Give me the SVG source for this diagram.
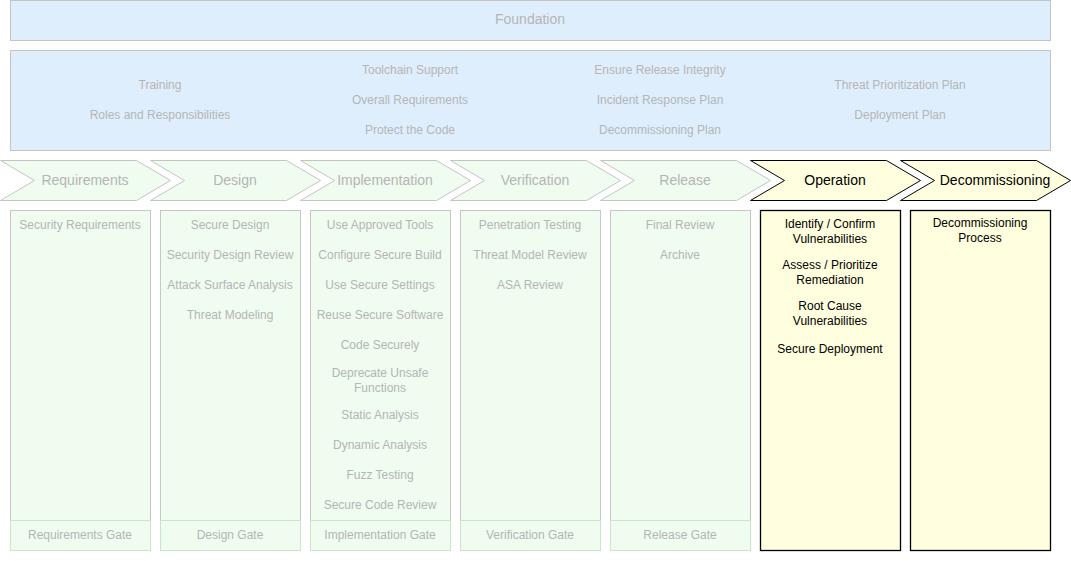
<svg xmlns="http://www.w3.org/2000/svg" width="1071" height="561" viewBox="0 0 1071 561">
<style>
text{font-family:"Liberation Sans",Arial,sans-serif;text-anchor:middle;dominant-baseline:central}
.f{font-size:12px;fill:#b5b5b5}
.fd{font-size:12px;fill:#000}
.h{font-size:14px;fill:#b5b5b5}
.hd{font-size:14px;fill:#000}
.blue{fill:#dfeefd;stroke:#c4c4c4;stroke-width:1}
.chev{fill:#effcef;stroke:#c4c4c4;stroke-width:1}
.chevd{fill:#ffffdf;stroke:#000;stroke-width:1}
.col{fill:#effcef;stroke:#c7c7c7;stroke-width:1}
.gate{fill:#effcef;stroke:#c8e6c8;stroke-width:1}
.cold{fill:#ffffdf;stroke:#000;stroke-width:1.3}
</style>
<defs>
<polygon id="chv" points="0.5,160.5 136.5,160.5 170.5,180.5 136.5,200.5 0.5,200.5 34.5,180.5"/>
</defs>
<g id="foundation">
<rect class="blue" x="10.5" y="0.5" width="1040" height="40"/>
<text class="h" x="530" y="19">Foundation</text>
</g>
<g id="foundation-items">
<rect class="blue" x="10.5" y="50.5" width="1040" height="100"/>
<text class="f" x="160" y="85">Training</text>
<text class="f" x="160" y="115">Roles and Responsibilities</text>
<text class="f" x="410" y="70">Toolchain Support</text>
<text class="f" x="410" y="100">Overall Requirements</text>
<text class="f" x="410" y="130">Protect the Code</text>
<text class="f" x="660" y="70">Ensure Release Integrity</text>
<text class="f" x="660" y="100">Incident Response Plan</text>
<text class="f" x="660" y="130">Decommissioning Plan</text>
<text class="f" x="900" y="85">Threat Prioritization Plan</text>
<text class="f" x="900" y="115">Deployment Plan</text>
</g>
<g id="phase-requirements">
<use href="#chv" class="chev"/>
<text class="h" x="85" y="180">Requirements</text>
</g>
<g id="phase-design">
<use href="#chv" class="chev" x="150"/>
<text class="h" x="235" y="180">Design</text>
</g>
<g id="phase-implementation">
<use href="#chv" class="chev" x="300"/>
<text class="h" x="385" y="180">Implementation</text>
</g>
<g id="phase-verification">
<use href="#chv" class="chev" x="450"/>
<text class="h" x="535" y="180">Verification</text>
</g>
<g id="phase-release">
<use href="#chv" class="chev" x="600"/>
<text class="h" x="685" y="180">Release</text>
</g>
<g id="phase-operation">
<use href="#chv" class="chevd" x="750"/>
<text class="hd" x="835" y="180">Operation</text>
</g>
<g id="phase-decommissioning">
<use href="#chv" class="chevd" x="900"/>
<text class="hd" x="995" y="180">Decommissioning</text>
</g>
<g id="col-requirements">
<rect class="col" x="10.5" y="210.5" width="140" height="310"/>
<rect class="gate" x="10.5" y="520.5" width="140" height="30"/>
<text class="f" x="80" y="225">Security Requirements</text>
<text class="f" x="80" y="535">Requirements Gate</text>
</g>
<g id="col-design">
<rect class="col" x="160.5" y="210.5" width="140" height="310"/>
<rect class="gate" x="160.5" y="520.5" width="140" height="30"/>
<text class="f" x="230" y="225">Secure Design</text>
<text class="f" x="230" y="255">Security Design Review</text>
<text class="f" x="230" y="285">Attack Surface Analysis</text>
<text class="f" x="230" y="315">Threat Modeling</text>
<text class="f" x="230" y="535">Design Gate</text>
</g>
<g id="col-implementation">
<rect class="col" x="310.5" y="210.5" width="140" height="310"/>
<rect class="gate" x="310.5" y="520.5" width="140" height="30"/>
<text class="f" x="380" y="225">Use Approved Tools</text>
<text class="f" x="380" y="255">Configure Secure Build</text>
<text class="f" x="380" y="285">Use Secure Settings</text>
<text class="f" x="380" y="315">Reuse Secure Software</text>
<text class="f" x="380" y="345">Code Securely</text>
<text class="f" x="380" y="373">Deprecate Unsafe</text>
<text class="f" x="380" y="388">Functions</text>
<text class="f" x="380" y="415">Static Analysis</text>
<text class="f" x="380" y="445">Dynamic Analysis</text>
<text class="f" x="380" y="475">Fuzz Testing</text>
<text class="f" x="380" y="505">Secure Code Review</text>
<text class="f" x="380" y="535">Implementation Gate</text>
</g>
<g id="col-verification">
<rect class="col" x="460.5" y="210.5" width="140" height="310"/>
<rect class="gate" x="460.5" y="520.5" width="140" height="30"/>
<text class="f" x="530" y="225">Penetration Testing</text>
<text class="f" x="530" y="255">Threat Model Review</text>
<text class="f" x="530" y="285">ASA Review</text>
<text class="f" x="530" y="535">Verification Gate</text>
</g>
<g id="col-release">
<rect class="col" x="610.5" y="210.5" width="140" height="310"/>
<rect class="gate" x="610.5" y="520.5" width="140" height="30"/>
<text class="f" x="680" y="225">Final Review</text>
<text class="f" x="680" y="255">Archive</text>
<text class="f" x="680" y="535">Release Gate</text>
</g>
<g id="col-operation">
<rect class="cold" x="760.5" y="210.5" width="140" height="340"/>
<text class="fd" x="830" y="224">Identify / Confirm</text>
<text class="fd" x="830" y="239">Vulnerabilities</text>
<text class="fd" x="830" y="265">Assess / Prioritize</text>
<text class="fd" x="830" y="280">Remediation</text>
<text class="fd" x="830" y="306">Root Cause</text>
<text class="fd" x="830" y="321">Vulnerabilities</text>
<text class="fd" x="830" y="349">Secure Deployment</text>
</g>
<g id="col-decommissioning">
<rect class="cold" x="910.5" y="210.5" width="140" height="340"/>
<text class="fd" x="980" y="223">Decommissioning</text>
<text class="fd" x="980" y="238">Process</text>
</g>
<g id="connectors"></g>
</svg>
